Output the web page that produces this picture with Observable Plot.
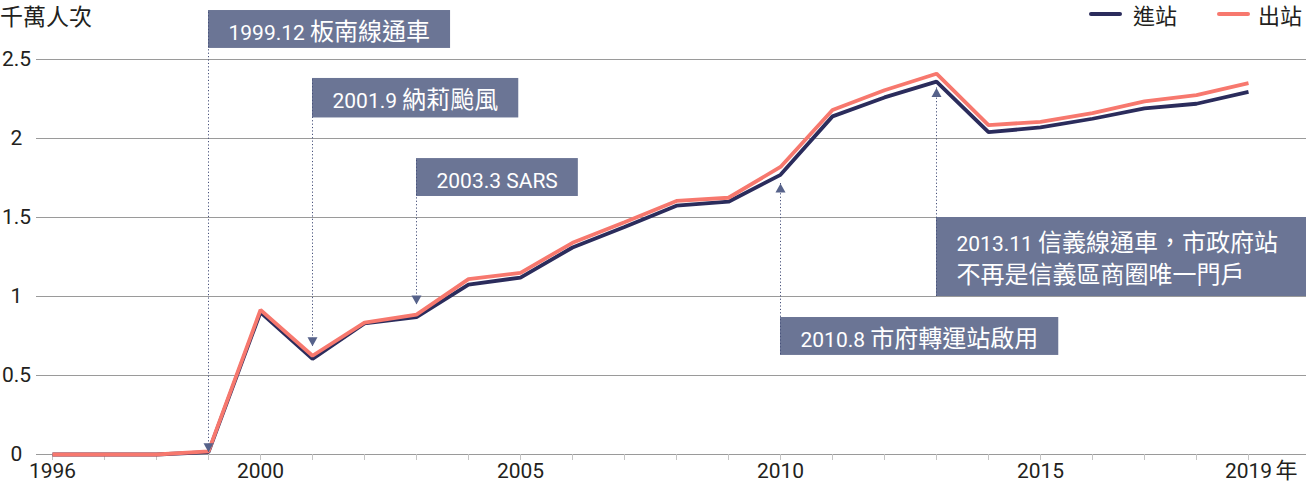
<!DOCTYPE html>
<html>
<head>
<meta charset="utf-8">
<script src="https://cdn.jsdelivr.net/npm/d3@7"></script>
<script src="https://cdn.jsdelivr.net/npm/@observablehq/plot@0.6"></script>
<style>
  html, body { margin: 0; padding: 0; background: #fff; }
  #wrap { position: relative; width: 1306px; height: 487px; font-family: Roboto, "Noto Sans CJK TC", sans-serif; color: #231f20; }
  #title { position: absolute; left: 0; top: 4px; font-size: 23px; line-height: 23px; font-family: "Noto Sans CJK TC", sans-serif; color: #231f20; }
  .lg-line { position: absolute; height: 4px; border-radius: 2px; }
  .lg-text { position: absolute; font-size: 22px; line-height: 22px; font-family: "Noto Sans CJK TC", sans-serif; color: #231f20; }
  #chart { position: absolute; left: 0; top: 0; }
  svg { overflow: visible; }
</style>
</head>
<body>
<div id="wrap">
  <div id="chart"></div>
  <div id="title">千萬人次</div>
  <div id="legend"></div>
</div>
<script>
// ---------- data ----------
const years = [1996, 1997, 1998, 1999, 2000, 2001, 2002, 2003, 2004, 2005, 2006, 2007,
               2008, 2009, 2010, 2011, 2012, 2013, 2014, 2015, 2016, 2017, 2018, 2019];
const entryValues = [0, 0, 0, 0.015, 0.90, 0.605, 0.83, 0.87, 1.075, 1.12, 1.31, 1.44,
                     1.575, 1.60, 1.77, 2.14, 2.26, 2.36, 2.04, 2.07, 2.125, 2.19, 2.22, 2.295];
const exitValues  = [0, 0, 0, 0.02, 0.915, 0.625, 0.835, 0.885, 1.11, 1.15, 1.34, 1.47,
                     1.605, 1.625, 1.82, 2.18, 2.305, 2.41, 2.085, 2.105, 2.16, 2.235, 2.275, 2.35];
const seriesNames = ["進站", "出站"];
const seriesColors = ["#2b2c5c", "#f7786e"];
const yTicks = [0, 0.5, 1, 1.5, 2, 2.5];
const yTickLabels = ["0", "0.5", "1", "1.5", "2", "2.5"];
const xLabelYears = [1996, 2000, 2005, 2010, 2015, 2019];
const xUnit = "年";

// annotations
const annYear = [1999, 2001, 2003, 2010, 2013];
const annText = [
  "1999.12 板南線通車",
  "2001.9 納莉颱風",
  "2003.3 SARS",
  "2010.8 市府轉運站啟用",
  "2013.11 信義線通車，市政府站\n不再是信義區商圈唯一門戶"
];
const annBoxTop = [2.81, 2.38, 1.873, 0.867, 1.5];
const annBoxBottom = [2.57, 2.13, 1.633, 0.627, 1.0];
const annTip = [0.015, 0.685, 0.95, 1.715, 2.32];
const annToEdge = [false, false, false, false, true];

// ---------- build ----------
const rows = [];
years.forEach((y, i) => rows.push({year: y, value: entryValues[i], series: seriesNames[0]}));
years.forEach((y, i) => rows.push({year: y, value: exitValues[i], series: seriesNames[1]}));
const annIdx = annYear.map((_, i) => i);
const downIdx = annIdx.filter(i => annTip[i] < annBoxBottom[i]);
const upIdx = annIdx.filter(i => annTip[i] >= annBoxBottom[i]);

const BOX = "#6b7595", ARROW = "#56628a", DOTS = "#46507a";
const W = 1306, H = 487;
const LATIN_SIZE = 21, CJK_SIZE = 24;

const triDown = {draw(ctx) { ctx.moveTo(0, 0); ctx.lineTo(-5, -9); ctx.lineTo(5, -9); ctx.closePath(); }};
const triUp = {draw(ctx) { ctx.moveTo(0, 0); ctx.lineTo(-5, 9); ctx.lineTo(5, 9); ctx.closePath(); }};

function build(boxRight) {
  const marks = [
    Plot.ruleY(yTicks, {stroke: "#9a9a9a", strokeWidth: 1}),
    Plot.axisX(years, {tickSize: 6, tickPadding: 3, stroke: "#c4c4c4", fill: "#231f20", fontSize: 21, label: null,
      tickFormat: d => xLabelYears.includes(d) ? String(d) : ""}),
    Plot.text([xLabelYears[xLabelYears.length - 1]], {x: d => d, frameAnchor: "bottom", text: () => xUnit,
      textAnchor: "start", lineAnchor: "top", dx: 27, dy: 8, fontSize: 22, fill: "#231f20",
      fontFamily: "'Noto Sans CJK TC', sans-serif"}),
    Plot.text(yTicks, {y: d => d, text: (d, i) => yTickLabels[i], frameAnchor: "left", dx: -20,
      textAnchor: "middle", fill: "#231f20", fontSize: 21}),
    Plot.line(rows, {x: "year", y: "value", z: "series", stroke: "series", strokeWidth: 3.8,
      strokeLinejoin: "miter", strokeLinecap: "butt"})
  ];
  if (boxRight) {
    marks.push(Plot.rect(annIdx, {x1: i => annYear[i], x2: i => boxRight[i], y1: i => annBoxBottom[i], y2: i => annBoxTop[i], fill: BOX}));
  }
  marks.push(
    Plot.ruleX(annIdx, {x: i => annYear[i], y1: i => annTip[i],
      y2: i => annTip[i] < annBoxBottom[i] ? annBoxTop[i] : annBoxBottom[i],
      stroke: DOTS, strokeWidth: 1, strokeDasharray: "1.2,2.2"}),
    Plot.dot(downIdx, {x: i => annYear[i], y: i => annTip[i], symbol: triDown, fill: ARROW, stroke: null, r: 5}),
    Plot.dot(upIdx, {x: i => annYear[i], y: i => annTip[i], symbol: triUp, fill: ARROW, stroke: null, r: 5}),
    Plot.text(annIdx, {x: i => annYear[i], y: i => (annBoxTop[i] + annBoxBottom[i]) / 2, text: i => annText[i],
      textAnchor: "start", lineAnchor: "middle", dx: 20, lineHeight: 1.52, fill: "#fff", fontSize: LATIN_SIZE,
      className: "ann"})
  );
  return Plot.plot({
    width: W, height: H,
    marginLeft: 36, marginRight: 0, marginTop: 59, marginBottom: 33,
    style: {fontFamily: "Roboto, 'Noto Sans CJK TC', sans-serif", fontSize: "21px", color: "#231f20", background: "transparent", overflow: "visible"},
    x: {domain: [years[0], years[years.length - 1]], insetLeft: 16, insetRight: 58, axis: null},
    y: {domain: [0, 2.5], axis: null},
    color: {domain: seriesNames, range: seriesColors},
    marks
  });
}

const NS = "http://www.w3.org/2000/svg";
function mixSizes(svg) {
  svg.querySelectorAll("g.ann text").forEach(t => {
    const lines = t.querySelectorAll("tspan").length ? Array.from(t.querySelectorAll("tspan")) : [t];
    lines.forEach(el => {
      const s = el.textContent;
      el.textContent = "";
      const runs = s.match(/[\u0000-\u024f]+|[^\u0000-\u024f]+/g) || [];
      runs.forEach(r => {
        const sp = document.createElementNS(NS, "tspan");
        sp.textContent = r;
        if (!/^[\u0000-\u024f]+$/.test(r)) {
          sp.setAttribute("font-size", CJK_SIZE);
          sp.setAttribute("font-family", "'Noto Sans CJK TC', sans-serif");
        }
        el.appendChild(sp);
      });
    });
  });
}

function invertX(p, px) {
  const s = p.scale("x");
  if (s && typeof s.invert === "function") return s.invert(px);
  const [d0, d1] = s.domain, [r0, r1] = s.range;
  return d0 + (px - r0) / (r1 - r0) * (d1 - d0);
}

const host = document.getElementById("chart");
const p1 = build(null);
host.appendChild(p1);
mixSizes(p1);
const svgLeft = p1.getBoundingClientRect().left;
const texts = Array.from(p1.querySelectorAll("g.ann text"));
const boxRight = annIdx.map(i => {
  if (annToEdge[i]) return invertX(p1, W);
  const b = texts[i].getBoundingClientRect();
  return invertX(p1, b.right - svgLeft + 20);
});
const p2 = build(boxRight);
host.replaceChild(p2, p1);
mixSizes(p2);

// legend
const legend = document.getElementById("legend");
const lgPos = [{line: 1089, text: 1133}, {line: 1217, text: 1258}];
seriesNames.forEach((name, i) => {
  const ln = document.createElement("div");
  ln.className = "lg-line";
  ln.style.left = lgPos[i].line + "px"; ln.style.top = "12px"; ln.style.width = "33px";
  ln.style.background = seriesColors[i];
  legend.appendChild(ln);
  const tx = document.createElement("div");
  tx.className = "lg-text";
  tx.style.left = lgPos[i].text + "px"; tx.style.top = "3px";
  tx.textContent = name;
  legend.appendChild(tx);
});
</script>
</body>
</html>
